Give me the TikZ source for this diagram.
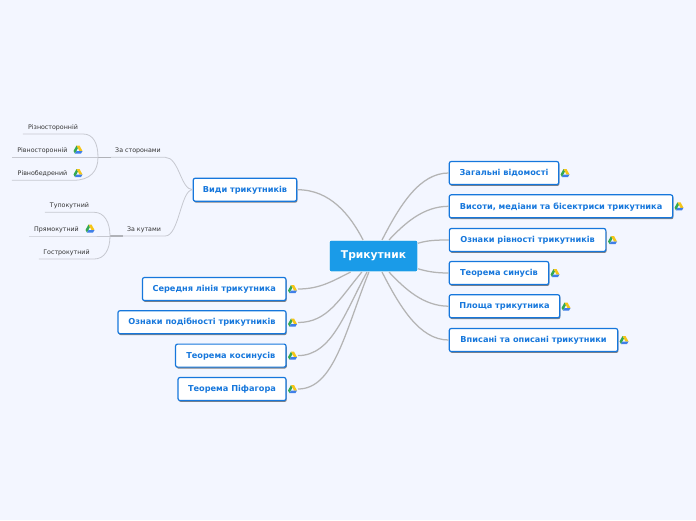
\documentclass[tikz,border=0pt]{standalone}
\usepackage{fontspec}
\setmainfont{DejaVu Sans}
\usetikzlibrary{shadows}
\definecolor{paper}{HTML}{F3F6FF}
\definecolor{boxblue}{HTML}{1677DC}
\definecolor{rootblue}{HTML}{1A9BE8}
\definecolor{wire}{HTML}{B4B4B4}
\definecolor{thinwire}{HTML}{C6C8D0}
\definecolor{hubwire}{HTML}{B0B2B8}
\definecolor{drivegreen}{HTML}{34A853}
\definecolor{driveyellow}{HTML}{F5C518}
\definecolor{driveblue}{HTML}{3F7FE8}
\tikzset{
  rootbox/.style={draw=white, line width=0.6pt, fill=rootblue, rounded corners=2pt, text=white, inner sep=0pt, font=\fontsize{10.7}{12}\selectfont\bfseries},
  topicbox/.style={draw=boxblue, line width=1.2pt, fill=white, rounded corners=2pt, text=boxblue, inner sep=0pt, minimum height=23pt, text height=6pt, text depth=0.5pt, font=\fontsize{8.2}{10}\selectfont\bfseries, drop shadow={shadow xshift=0.7pt, shadow yshift=-1.4pt, fill=black!60, opacity=0.8}},
  leaftext/.style={inner sep=0pt, minimum height=12pt, text=black!80, font=\fontsize{6.3}{7}\selectfont},
  wireline/.style={draw=wire, line width=1.25pt},
  leafline/.style={draw=thinwire, line width=0.8pt},
  hubline/.style={draw=hubwire, line width=1.4pt},
  drive/.pic={
    \fill[drivegreen] (-1.5,-4) -- (-4.5,1.5) -- (-3,4) -- (0,-1.5) -- cycle;
    \fill[driveyellow] (-1.5,-4) -- (1.5,-4) -- (4.5,1.5) -- (1.5,1.5) -- cycle;
    \fill[driveblue] (-3,4) -- (3,4) -- (4.5,1.5) -- (-1.5,1.5) -- cycle;
  }
}
\begin{document}
\begin{tikzpicture}[>=stealth, x=1pt, y=-1pt]
\useasboundingbox[fill=paper] (0,0) rectangle (696,520);

\node[rootbox, minimum width=88.5pt, minimum height=31.5pt] (root) at (373.5,256) {Трикутник};

\node[topicbox, minimum width=109.5pt] (zag) at (504,173) {Загальні відомості};
\node[topicbox, minimum width=223.5pt] (vys) at (561,206.3) {Висоти, медіани та бісектриси трикутника};
\node[topicbox, minimum width=156.5pt] (rivn) at (527.6,240) {Ознаки рівності трикутників};
\node[topicbox, minimum width=99.5pt] (sin) at (499,273) {Теорема синусів};
\node[topicbox, minimum width=110.5pt] (plo) at (504.5,306.2) {Площа трикутника};
\node[topicbox, minimum width=168.5pt] (vpy) at (533.5,340) {Вписані та описані трикутники};

\node[topicbox, minimum width=103.5pt] (vydy) at (245,189.7) {Види трикутників};
\node[topicbox, minimum width=143.5pt] (ser) at (214.2,289) {Середня лінія трикутника};
\node[topicbox, minimum width=168pt] (pod) at (202,322.2) {Ознаки подібності трикутників};
\node[topicbox, minimum width=110.5pt] (kos) at (230.8,355.6) {Теорема косинусів};
\node[topicbox, minimum width=108pt] (pif) at (232,389) {Теорема Піфагора};

\node[leaftext, minimum width=54pt, anchor=south] (storony) at (138,157.3) {За сторонами};
\node[leaftext, minimum width=42pt, anchor=south] (kuty) at (144,236) {За кутами};
\coordinate (hubs) at (98,157.3);
\coordinate (hubk) at (110,236);

\node[leaftext, minimum width=60pt, anchor=south] (rizno) at (53,134) {Різносторонній};
\node[leaftext, minimum width=61pt, anchor=south] (rivno) at (42.5,157.3) {Рівносторонній};
\node[leaftext, minimum width=61pt, anchor=south] (bedr) at (42.5,180.3) {Рівнобедрений};
\node[leaftext, minimum width=49pt, anchor=south] (tupo) at (69.5,212.3) {Тупокутний};
\node[leaftext, minimum width=55pt, anchor=south] (pryam) at (56.5,236) {Прямокутний};
\node[leaftext, minimum width=55pt, anchor=south] (gost) at (66.5,259) {Гострокутний};

\coordinate (serend) at (298,289);
\coordinate (podend) at (298,322.5);
\coordinate (kosend) at (298,355.6);
\coordinate (pifend) at (298,389);

\pic at (565,173) {drive};
\pic at (679,206.3) {drive};
\pic at (612.5,240) {drive};
\pic at (555,273) {drive};
\pic at (566,306.5) {drive};
\pic at (624,340) {drive};
\pic at (292.5,289) {drive};
\pic at (292.5,322.5) {drive};
\pic at (292.5,355.6) {drive};
\pic at (292.5,389) {drive};
\pic at (78,149.5) {drive};
\pic at (78,173) {drive};
\pic at (90,228.5) {drive};

\draw[wireline] (zag.west) .. controls +(-29,0) and +(18,-35) .. (root.62);
\draw[wireline] (vys.west) .. controls +(-25,0) and +(16,-17) .. (root.46);
\draw[wireline] (rivn.west) .. controls +(-12,0) and +(10,-3) .. (root.16);
\draw[wireline] (sin.west) .. controls +(-12,0) and +(10,3) .. (root.-16);
\draw[wireline] (plo.west) .. controls +(-25,0) and +(16,17) .. (root.-46);
\draw[wireline] (vpy.west) .. controls +(-29,0) and +(18,35) .. (root.-62);
\draw[wireline] (vydy.east) .. controls +(33,0) and +(-13,-25) .. (root.123);
\draw[wireline] (serend) .. controls +(22,0) and +(-18,9) .. (root.215);
\draw[wireline] (podend) .. controls +(30,0) and +(-22,26) .. (root.234);
\draw[wireline] (kosend) .. controls +(34,0) and +(-22,40) .. (root.248);
\draw[wireline] (pifend) .. controls +(36,0) and +(-24,60) .. (root.254);

\draw[leafline] (storony.south west) -- (storony.south east) .. controls +(14,0) and +(-12,0) .. (vydy.west);
\draw[leafline] (kuty.south west) -- (kuty.south east) .. controls +(14,0) and +(-12,0) .. (vydy.west);
\draw[hubline] (hubs) -- (storony.south west);
\draw[hubline] (hubk) -- (kuty.south west);

\draw[leafline] (rizno.south west) -- (rizno.south east) .. controls +(10,0) and +(0,-14) .. (hubs);
\draw[leafline] (rivno.south west) -- (rivno.south east) -- (hubs);
\draw[leafline] (bedr.south west) -- (bedr.south east) .. controls +(17,0) and +(0,14) .. (hubs);
\draw[leafline] (tupo.south west) -- (tupo.south east) .. controls +(10,0) and +(0,-14) .. (hubk);
\draw[leafline] (pryam.south west) -- (pryam.south east) -- (hubk);
\draw[leafline] (gost.south west) -- (gost.south east) .. controls +(10,0) and +(0,14) .. (hubk);
\end{tikzpicture}
\end{document}
